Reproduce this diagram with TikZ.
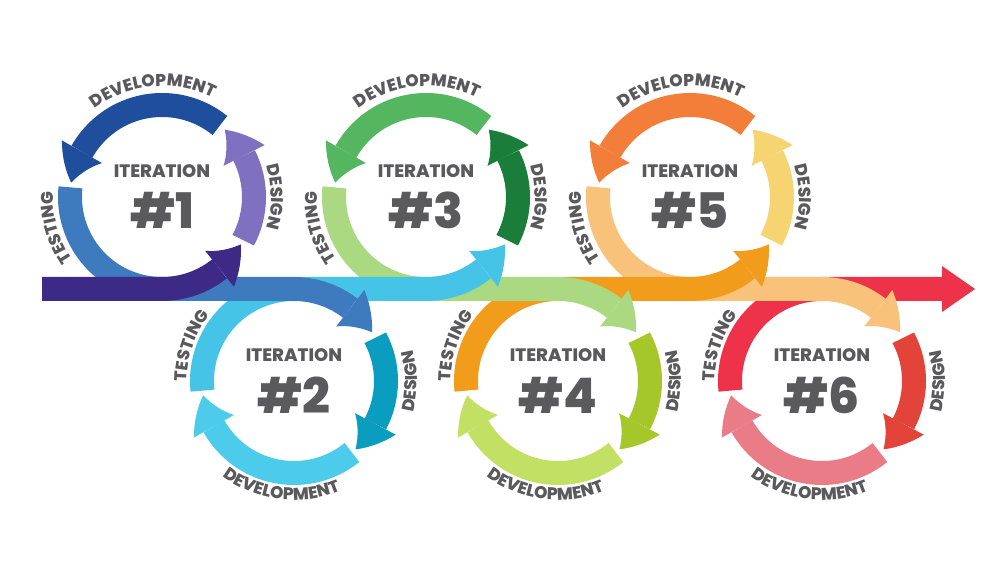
\documentclass[tikz,border=0pt]{standalone}
\usepackage{fontspec}
\setmainfont{Poppins}[BoldFont={Poppins ExtraBold}]
\usetikzlibrary{arrows.meta,bending,decorations.text}

% colours
\definecolor{txtgray}{HTML}{5A5A5C}
\definecolor{startpurple}{HTML}{3C2A86}
\definecolor{desone}{HTML}{8070C0}
\definecolor{devone}{HTML}{1F4F9C}
\definecolor{testone}{HTML}{3E7BBE}
\definecolor{destwo}{HTML}{0A9DC0}
\definecolor{devtwo}{HTML}{4CCBEB}
\definecolor{testtwo}{HTML}{46C4E8}
\definecolor{desthree}{HTML}{1A7E3A}
\definecolor{devthree}{HTML}{55B660}
\definecolor{testthree}{HTML}{ABD982}
\definecolor{desfour}{HTML}{A6C72A}
\definecolor{devfour}{HTML}{C2E063}
\definecolor{testfour}{HTML}{F29C1C}
\definecolor{desfive}{HTML}{F6D472}
\definecolor{devfive}{HTML}{F27E39}
\definecolor{testfive}{HTML}{F9C27B}
\definecolor{dessix}{HTML}{E2443A}
\definecolor{devsix}{HTML}{EA7C87}
\definecolor{testsix}{HTML}{EE3249}

\newcommand{\arcfont}{\bfseries\fontsize{17}{17}\selectfont}

\tikzset{
  ringband/.style={line width=24pt},
  bandtip/.style={-{Triangle[length=33pt,width=46pt,line width=0pt,bend]}},
  arclabel/.style={decorate,decoration={text along path,text align=center,
    text color=txtgray,text={|\arcfont|#1}}},
  iterlabel/.style={text=txtgray,font=\bfseries\fontsize{18}{18}\selectfont},
  numlabel/.style={text=txtgray,font=\bfseries\fontsize{49}{49}\selectfont}
}

% ring above the time line: #1 centre, #2 design, #3 development, #4 number
\newcommand{\upring}[4]{
  \draw[ringband,bandtip,#2] ([shift={(-28:92pt)}]#1) arc[start angle=-28,end angle=47,radius=92pt];
  \draw[ringband,bandtip,#3] ([shift={(51:92pt)}]#1) arc[start angle=51,end angle=171,radius=92pt];
  \path[arclabel=DEVELOPMENT] ([shift={(150:111pt)}]#1) arc[start angle=150,end angle=40,radius=111pt];
  \path[arclabel=DESIGN] ([shift={(35:109pt)}]#1) arc[start angle=35,end angle=-35,radius=109pt];
  \path[arclabel=TESTING] ([shift={(230:109pt)}]#1) arc[start angle=230,end angle=162,radius=109pt];
  \node[iterlabel] (it#4) at ([yshift=26pt]#1) {ITERATION};
  \node[numlabel] (num#4) at ([yshift=-13pt]#1) {\##4};
}

% ring below the time line
\newcommand{\downring}[4]{
  \draw[ringband,bandtip,#2] ([shift={(28:92pt)}]#1) arc[start angle=28,end angle=-48,radius=92pt];
  \draw[ringband,bandtip,#3] ([shift={(-51:92pt)}]#1) arc[start angle=-51,end angle=-171,radius=92pt];
  \path[arclabel=DEVELOPMENT] ([shift={(210:119pt)}]#1) arc[start angle=210,end angle=316,radius=119pt];
  \path[arclabel=DESIGN] ([shift={(-35:123pt)}]#1) arc[start angle=-35,end angle=35,radius=123pt];
  \path[arclabel=TESTING] ([shift={(195:107pt)}]#1) arc[start angle=195,end angle=127,radius=107pt];
  \node[iterlabel] (it#4) at ([yshift=26pt]#1) {ITERATION};
  \node[numlabel] (num#4) at ([yshift=-14pt]#1) {\##4};
}

\begin{document}
\begin{tikzpicture}[x=1pt,y=1pt]
    \fill[white] (0,0) rectangle (1000,570);
    \useasboundingbox (0,0) rectangle (1000,570);

    % centres of the rings
    \coordinate (c1) at (162,373);
    \coordinate (c2) at (294,189);
    \coordinate (c3) at (426,373);
    \coordinate (c4) at (558,189);
    \coordinate (c5) at (690,373);
    \coordinate (c6) at (822,189);
    \coordinate (start) at (42,281);
    \coordinate (finish) at (975,281);

    % Rings
    \upring{c1}{desone}{devone}{1}
    \downring{c2}{destwo}{devtwo}{2}
    \upring{c3}{desthree}{devthree}{3}
    \downring{c4}{desfour}{devfour}{4}
    \upring{c5}{desfive}{devfive}{5}
    \downring{c6}{dessix}{devsix}{6}

    % Testing bands, each one feeding the next ring
    \draw[ringband,bandtip,testsix] ([shift={(186:92pt)}]c6) arc[start angle=186,end angle=90,radius=92pt] -- (finish);
    \draw[ringband,bandtip,testfive] ([shift={(174:92pt)}]c5) arc[start angle=174,end angle=270,radius=92pt]
        -- ([yshift=92pt]c6) arc[start angle=90,end angle=32,radius=92pt];
    \draw[ringband,bandtip,testfour] ([shift={(186:92pt)}]c4) arc[start angle=186,end angle=90,radius=92pt]
        -- ([yshift=-92pt]c5) arc[start angle=-90,end angle=-31,radius=92pt];
    \draw[ringband,bandtip,testthree] ([shift={(174:92pt)}]c3) arc[start angle=174,end angle=270,radius=92pt]
        -- ([yshift=92pt]c4) arc[start angle=90,end angle=32,radius=92pt];
    \draw[ringband,bandtip,testtwo] ([shift={(186:92pt)}]c2) arc[start angle=186,end angle=90,radius=92pt]
        -- ([yshift=-92pt]c3) arc[start angle=-90,end angle=-31,radius=92pt];
    \draw[ringband,bandtip,testone] ([shift={(174:92pt)}]c1) arc[start angle=174,end angle=270,radius=92pt]
        -- ([yshift=92pt]c2) arc[start angle=90,end angle=32,radius=92pt];

    % Start of the time line
    \draw[ringband,bandtip,startpurple] (start) -- ([yshift=-92pt]c1) arc[start angle=-90,end angle=-31,radius=92pt];
\end{tikzpicture}
\end{document}
